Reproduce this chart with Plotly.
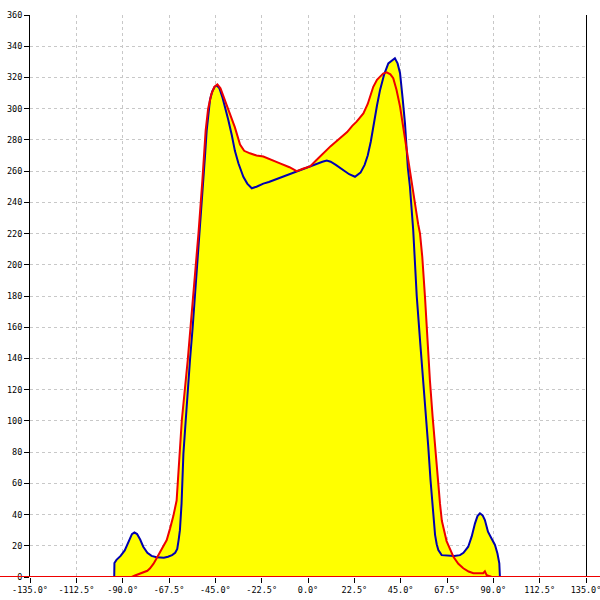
import plotly.graph_objects as go

# ---- data (degrees, values) ----
blue_x = [-94.1, -94.0, -93.0, -91.0, -89.0, -87.0, -85.5, -84.3, -83.0, -81.5, -80.0, -78.0, -76.0,
          -73.5, -70.0, -68.0, -66.0, -64.5, -63.5, -62.8, -62.2, -61.4, -60.5, -59.5, -58.5, -57.3,
          -56.0, -54.9, -53.6, -52.4, -51.5, -50.8, -50.0, -49.2, -48.3, -47.6, -46.5, -45.3, -44.3,
          -43.0, -41.5, -40.0, -38.7, -37.0, -35.5, -33.8, -32.5, -31.4, -29.5, -27.3, -25.0, -23.5,
          -21.7, -19.0, -16.0, -13.6, -10.0, -5.5, -2.0, 1.0, 4.0, 7.0, 9.1, 11.0, 13.5, 17.1, 20.0,
          22.8, 25.5, 27.5, 29.0, 30.5, 31.7, 33.5, 35.0, 37.0, 39.0, 40.5, 42.2, 43.5, 44.7, 46.0,
          47.1, 48.5, 49.5, 51.1, 52.8, 54.5, 56.0, 57.3, 58.4, 59.5, 60.8, 61.7, 62.5, 63.3, 64.9,
          68.0, 71.0, 73.8, 75.5, 77.8, 79.5, 81.1, 82.3, 83.5, 84.8, 85.9, 87.4, 89.0, 90.8, 92.0,
          92.9, 93.2]
blue_y = [0, 9, 11, 13.5, 17, 23, 27.5, 28.6, 27.5, 24, 19.4, 15.5, 13.5,
          12.6, 12.4, 13, 14, 15.5, 18, 24, 30, 47, 79, 98, 118, 139,
          160, 180, 200, 220, 238, 254, 270, 286, 298, 305.6, 311, 314, 315,
          313, 307, 300, 292.8, 283, 273, 265, 259.5, 256.4, 252, 249, 250, 251,
          252, 253, 254.5, 256, 257.5, 259.6, 261.5, 262.9, 264.5, 266, 266.7, 266, 264, 260.7, 258,
          256.4, 259, 264, 270, 279, 289, 302, 312, 322, 329, 330.5, 332.3, 329, 322.7, 306,
          290.6, 262, 250, 222, 180, 150, 126, 103, 83.5, 62, 38, 27, 21, 17.3, 14,
          13.5, 13.5, 14, 15.5, 19.4, 26, 34.4, 39, 40.8, 39.5, 36.5, 29, 25, 20.5, 15,
          8.8, 0]

red_x = [-135.0, -85.6, -84.0, -82.0, -80.0, -78.0, -76.7, -75.0, -73.5, -71.0, -68.6, -67.0, -65.4,
         -63.8, -62.5, -61.3, -58.4, -55.7, -53.2, -51.3, -49.7, -48.5, -47.0, -45.5, -44.0, -42.5,
         -40.5, -37.9, -35.5, -33.0, -31.0, -28.2, -25.0, -21.7, -18.0, -13.6, -9.0, -5.5, -2.5, 1.0,
         4.0, 7.4, 11.0, 15.5, 19.0, 21.5, 23.6, 26.9, 29.0, 31.7, 33.5, 35.0, 36.5, 38.2, 40.0, 41.4,
         43.0, 44.7, 47.1, 49.5, 51.9, 53.5, 54.4, 55.5, 56.8, 58.0, 59.2, 60.5, 61.7, 63.3, 64.1,
         65.0, 67.3, 70.6, 73.0, 75.4, 78.0, 80.3, 83.0, 85.1, 85.9, 86.7, 88.0, 89.2, 135.0]
red_y = [0, 0, 1.0, 2.0, 2.8, 4, 5.6, 8.5, 12, 17.5, 23.7, 31, 39,
         49, 79, 100, 139, 179.6, 220, 254, 286, 300, 309, 314, 315.5, 313,
         306, 297, 288, 277, 273, 271.4, 270, 269.3, 267.5, 265, 262.5, 260, 261.5, 263,
         267, 271.4, 276, 281, 285, 289, 291.7, 297, 303, 314, 318.5, 320.5, 322.5, 323.3, 322, 319.5,
         312, 301.3, 280, 258.6, 237, 226, 220, 205, 179.6, 152, 126, 103, 83.5, 58, 47,
         36, 23, 13, 8.5, 5.6, 3.5, 2.4, 2.2, 2.4, 3.6, 1.3, 0.6, 0, 0]

x_tick_vals = [-135.0, -112.5, -90.0, -67.5, -45.0, -22.5, 0.0, 22.5, 45.0, 67.5, 90.0, 112.5, 135.0]
x_tick_text = ["-135.0°", "-112.5°", "-90.0°", "-67.5°", "-45.0°", "-22.5°", "0.0°",
               "22.5°", "45.0°", "67.5°", "90.0°", "112.5°", "135.0°"]
y_tick_vals = list(range(0, 361, 20))

YELLOW = "#ffff00"
RED = "#ee0000"
BLUE = "#0000b0"

fig = go.Figure()
# yellow fill under both curves
fig.add_trace(go.Scatter(x=red_x, y=red_y, mode="lines", fill="tozeroy", fillcolor=YELLOW,
                         line=dict(width=0, color=YELLOW), hoverinfo="skip", showlegend=False))
fig.add_trace(go.Scatter(x=blue_x, y=blue_y, mode="lines", fill="tozeroy", fillcolor=YELLOW,
                         line=dict(width=0, color=YELLOW), hoverinfo="skip", showlegend=False))
# lines
fig.add_trace(go.Scatter(x=blue_x, y=blue_y, mode="lines", line=dict(color=BLUE, width=2),
                         showlegend=False))
fig.add_trace(go.Scatter(x=red_x, y=red_y, mode="lines", line=dict(color=RED, width=2),
                         showlegend=False))

# red baseline across full width
fig.add_shape(type="line", xref="paper", yref="y", x0=-0.1, x1=1.1, y0=0, y1=0,
              line=dict(color=RED, width=2), layer="above")

font = dict(family="DejaVu Sans Mono", size=8.5, color="#000000")
grid = dict(showgrid=True, gridcolor="#c8c8c8", gridwidth=1, griddash="3px,3px")

fig.update_xaxes(range=[-135, 135], tickmode="array", tickvals=x_tick_vals, ticktext=x_tick_text,
                 ticks="outside", ticklen=5, tickcolor="black", tickwidth=1, automargin=False,
                 ticklabeloverflow="allow",
                 showline=False, zeroline=False, tickfont=font, **grid)
fig.update_yaxes(range=[0, 360], tickmode="array", tickvals=y_tick_vals,
                 ticks="outside", ticklen=5, tickcolor="black", tickwidth=1, automargin=False,
                 ticklabeloverflow="allow",
                 showline=True, linecolor="black", linewidth=1, mirror=True,
                 zeroline=False, tickfont=font, **grid)

fig.update_layout(width=600, height=600, margin=dict(l=30, r=14, t=15, b=23),
                  plot_bgcolor="white", paper_bgcolor="white", showlegend=False)

fig.write_html("out.html", config={"displayModeBar": False},
               post_script="document.body.style.margin='0';document.body.style.overflow='hidden';")
